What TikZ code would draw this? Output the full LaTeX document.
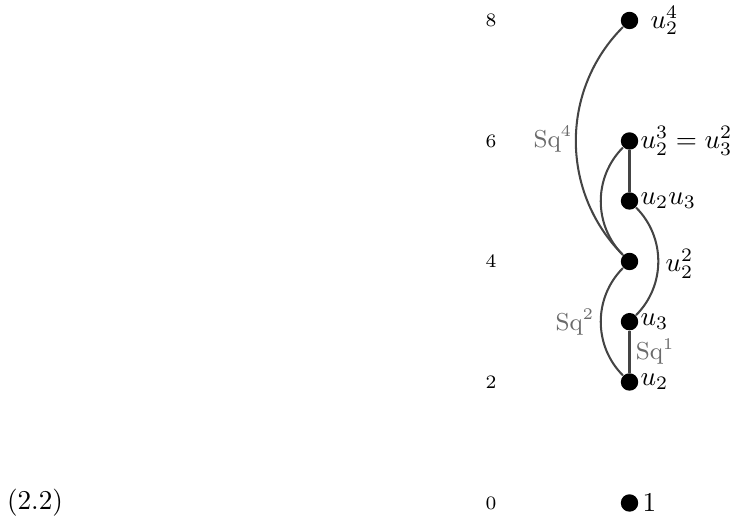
\documentclass[tikz,border=0pt]{standalone}
\usepackage{xcolor}
\definecolor{edgegray}{HTML}{444444}
\definecolor{sqgray}{HTML}{6A6A6A}
\begin{document}
\begin{tikzpicture}[x=0.3676pt,y=-0.3676pt,
  dot/.style={circle,fill=black,inner sep=0pt,minimum size=6.4pt},
  lab/.style={anchor=west,inner sep=0pt},
  deg/.style={font=\scriptsize,inner sep=0pt},
  sq/.style={font=\small,text=sqgray,inner sep=0pt},
  conn/.style={draw=edgegray,line width=0.75pt}]
\useasboundingbox (0,0) rectangle (731,526);
% degree axis
\node[deg] (d0) at (491,503) {0};
\node[deg] (d2) at (491,382) {2};
\node[deg] (d4) at (491,261.5) {4};
\node[deg] (d6) at (491,141) {6};
\node[deg] (d8) at (491,20.5) {8};
\node[inner sep=0pt] (eq) at (35,503) {(2.2)};
% nodes
\node[dot] (one) at (629.5,503) {};
\node[dot] (u2) at (629.5,382) {};
\node[dot] (u3) at (629.5,321.7) {};
\node[dot] (u22) at (629.5,261.5) {};
\node[dot] (u2u3) at (629.5,201) {};
\node[dot] (u23) at (629.5,141) {};
\node[dot] (u24) at (629.5,20.5) {};
% labels
\node[lab] (l1) at (642,503) {$1$};
\node[lab] (lu2) at (640,382) {$u_2$};
\node[lab] (lu3) at (640,321.7) {$u_3$};
\node[lab] (lu22) at (665,264) {$u_2^2$};
\node[lab] (lu2u3) at (640,201) {$u_2u_3$};
\node[lab] (lu23) at (640,141) {$u_2^3=u_3^2$};
\node[lab] (lu24) at (650,20.5) {$u_2^4$};
% connectors
\draw[conn] (u2) -- node[sq,anchor=west,xshift=2pt] (sq1) {Sq$^1$} (u3);
\draw[conn] (u2) to[bend left=45] (u22);
\draw[conn] (u3) to[bend right=45] (u2u3);
\draw[conn] (u22) to[bend left=45] (u23);
\draw[conn] (u2u3) -- (u23);
\draw[conn] (u22) to[bend left=45] (u24);
\node[sq] (sq2) at (575,322) {Sq$^2$};
\node[sq] (sq4) at (553,139) {Sq$^4$};
\end{tikzpicture}
\end{document}
